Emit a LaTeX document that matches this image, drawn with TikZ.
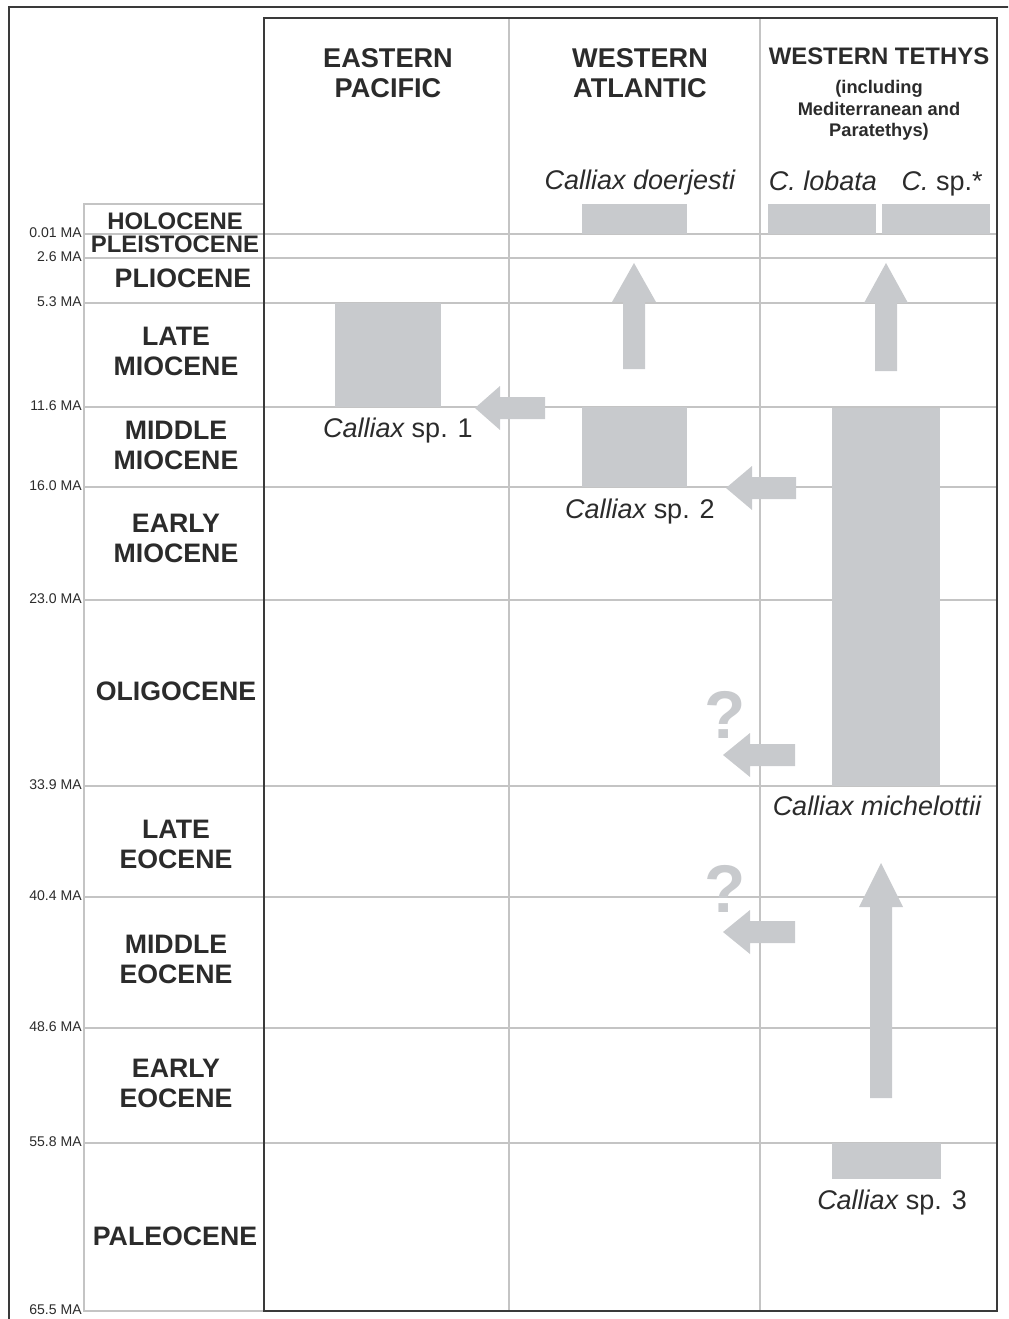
\documentclass[tikz,border=0pt]{standalone}
\usepackage{fontspec}
\setmainfont{Liberation Sans}
\usepackage{xcolor}
\definecolor{ink}{HTML}{2B2B2B}
\definecolor{rule}{HTML}{C4C4C4}
\definecolor{edge}{HTML}{3A3A3A}
\definecolor{barfill}{HTML}{C8CACD}

\begin{document}
\begin{tikzpicture}[x=0.25mm,y=-0.25mm,
  every node/.style={text=ink,inner sep=0pt},
  grid/.style={draw=rule,line width=0.8pt},
  frame/.style={draw=edge,line width=1.4pt},
  bar/.style={fill=barfill},
  region/.style={font=\fontsize{19.3}{22}\selectfont\bfseries,align=center,anchor=base},
  epoch/.style={font=\fontsize{19}{21.3}\selectfont\bfseries,align=center,anchor=base},
  smallepoch/.style={font=\fontsize{17}{19}\selectfont\bfseries,anchor=base},
  age/.style={font=\fontsize{10}{12}\selectfont,anchor=east},
  taxon/.style={font=\fontsize{19.2}{22}\selectfont,anchor=base},
  query/.style={font=\fontsize{48}{50}\selectfont\bfseries,text=barfill}]
\useasboundingbox (0,0) rectangle (1008,1319);
\clip (0,0) rectangle (1008,1319);
% outer frame (cut by the page)
\draw[frame] (1040,7) -- (9,7) -- (9,1340);
% time grid
\draw[grid] (84,204) rectangle (264,1311);
\draw[grid] (84,234) -- (997,234);
\draw[grid] (84,258) -- (997,258);
\draw[grid] (84,303) -- (997,303);
\draw[grid] (84,407) -- (997,407);
\draw[grid] (84,487) -- (997,487);
\draw[grid] (84,600) -- (997,600);
\draw[grid] (84,786) -- (997,786);
\draw[grid] (84,897) -- (997,897);
\draw[grid] (84,1028) -- (997,1028);
\draw[grid] (84,1143) -- (997,1143);
\draw[grid] (509,18) -- (509,1311);
\draw[grid] (760,18) -- (760,1311);
\draw[frame] (264,18) rectangle (997,1311);
% ages
\node[age] (t001) at (82,233) {0.01 MA};
\node[age] (t26) at (82,257) {2.6 MA};
\node[age] (t53) at (82,302) {5.3 MA};
\node[age] (t116) at (82,406) {11.6 MA};
\node[age] (t160) at (82,486) {16.0 MA};
\node[age] (t230) at (82,599) {23.0 MA};
\node[age] (t339) at (82,785) {33.9 MA};
\node[age] (t404) at (82,896) {40.4 MA};
\node[age] (t486) at (82,1027) {48.6 MA};
\node[age] (t558) at (82,1142) {55.8 MA};
\node[age] (t655) at (82,1310) {65.5 MA};
% epochs (base = last line)
\node[smallepoch] (holo) at (175,230) {HOLOCENE};
\node[smallepoch] (pleis) at (175,253) {PLEISTOCENE};
\node[epoch] (plio) at (183,288) {PLIOCENE};
\node[epoch] (latemio) at (176,375) {LATE\\MIOCENE};
\node[epoch] (midmio) at (176,469) {MIDDLE\\MIOCENE};
\node[epoch] (earlymio) at (176,562) {EARLY\\MIOCENE};
\node[epoch] (oligo) at (176,700) {OLIGOCENE};
\node[epoch] (lateeo) at (176,868) {LATE\\EOCENE};
\node[epoch] (mideo) at (176,983) {MIDDLE\\EOCENE};
\node[epoch] (earlyeo) at (176,1107) {EARLY\\EOCENE};
\node[epoch] (paleo) at (175,1245) {PALEOCENE};
% regions
\node[region] (eastpac) at (388,98) {EASTERN\\PACIFIC};
\node[region] (westatl) at (640,98) {WESTERN\\ATLANTIC};
\node[region,font=\fontsize{17}{19}\selectfont\bfseries] (westteth) at (879,65) {WESTERN TETHYS};
\node[font=\fontsize{13}{15.6}\selectfont\bfseries,align=center,anchor=base] (westtethsub) at (879,137) {(including\\Mediterranean and\\Paratethys)};
% ranges
\fill[bar] (582,204) rectangle (687,234);
\fill[bar] (768,204) rectangle (876,234);
\fill[bar] (882,204) rectangle (990,234);
\fill[bar] (335,303) rectangle (441,407);
\fill[bar] (582,407) rectangle (687,487);
\fill[bar] (832,408) rectangle (940,786);
\fill[bar] (832,1143) rectangle (941,1179);
% arrows
\fill[bar] (623,369) -- (623,302) -- (612,302) -- (634,263) -- (656,302) -- (645,302) -- (645,369) -- cycle;
\fill[bar] (875,371) -- (875,303) -- (864,303) -- (886,263) -- (908,303) -- (897,303) -- (897,371) -- cycle;
\fill[bar] (870,1098) -- (870,907) -- (859,907) -- (881,863) -- (903,907) -- (892,907) -- (892,1098) -- cycle;
\fill[bar] (545,397) -- (500,397) -- (500,386) -- (475,408) -- (500,430) -- (500,419) -- (545,419) -- cycle;
\fill[bar] (796,477) -- (752,477) -- (752,466) -- (726,488) -- (752,510) -- (752,499) -- (796,499) -- cycle;
\fill[bar] (795,744) -- (750,744) -- (750,733) -- (723,755) -- (750,777) -- (750,766) -- (795,766) -- cycle;
\fill[bar] (795,921) -- (750,921) -- (750,910) -- (723,932) -- (750,954) -- (750,943) -- (795,943) -- cycle;
\node[query] (q1) at (725,715) {?};
\node[query] (q2) at (725,889) {?};
% taxa
\node[taxon] (doerjesti) at (640,190) {\itshape Calliax doerjesti};
\node[taxon] (lobata) at (823,191) {\itshape C. lobata};
\node[taxon] (csp) at (942,191) {\itshape C.\upshape\ sp.*};
\node[taxon] (sp1) at (398,437) {\itshape Calliax\upshape\ sp. 1};
\node[taxon] (sp2) at (640,518) {\itshape Calliax\upshape\ sp. 2};
\node[taxon] (michelottii) at (877,815) {\itshape Calliax michelottii};
\node[taxon] (sp3) at (892,1209) {\itshape Calliax\upshape\ sp. 3};
\end{tikzpicture}
\end{document}
